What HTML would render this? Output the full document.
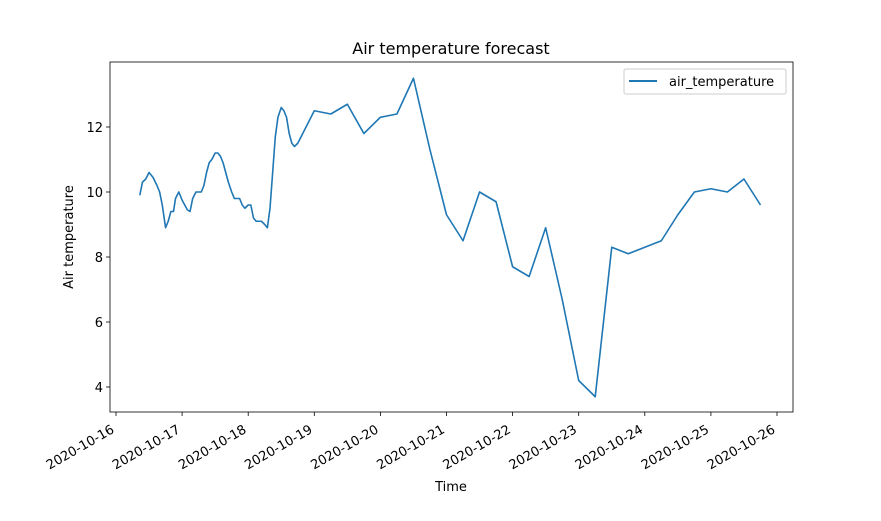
<!DOCTYPE html>
<html><head><meta charset="utf-8"><style>
body{margin:0;background:#fff;}
svg text{font-family:"DejaVu Sans","Liberation Sans",sans-serif;fill:#000;}
</style></head><body>
<svg width="881" height="516" viewBox="0 0 881 516">
<text x="451" y="54" font-size="16" text-anchor="middle">Air temperature forecast</text>
<g id="axes"></g>
<text x="451" y="491" font-size="13" text-anchor="middle">Time</text>
<text transform="translate(73,237) rotate(-90)" font-size="13" text-anchor="middle">Air temperature</text>
<g>
<rect x="624" y="69" width="162" height="25" rx="2" fill="#fff" stroke="#ccc"/>
<line x1="629" y1="81" x2="657" y2="81" stroke="#1f77b4" stroke-width="2"/>
<text x="669" y="86" font-size="13">air_temperature</text>
</g>
</svg>
<script>
const days=[0.36,0.40,0.45,0.50,0.56,0.62,0.66,0.70,0.75,0.79,0.83,0.87,0.90,0.95,1.00,1.04,1.08,1.12,1.16,1.21,1.29,1.33,1.37,1.41,1.45,1.50,1.54,1.58,1.62,1.66,1.70,1.75,1.79,1.87,1.91,1.95,2.00,2.04,2.08,2.12,2.20,2.25,2.29,2.33,2.37,2.41,2.45,2.50,2.54,2.58,2.62,2.66,2.70,2.75,3.0,3.25,3.5,3.75,4.0,4.25,4.5,4.75,5.0,5.25,5.5,5.75,6.0,6.25,6.5,6.75,7.0,7.25,7.5,7.75,8.25,8.5,8.75,9.0,9.25,9.5,9.75];
const temps=[9.9,10.3,10.4,10.6,10.45,10.2,10.0,9.6,8.9,9.1,9.4,9.4,9.8,10.0,9.75,9.6,9.45,9.4,9.8,10.0,10.0,10.2,10.6,10.9,11.0,11.2,11.2,11.1,10.9,10.6,10.3,10.0,9.8,9.8,9.6,9.5,9.6,9.6,9.2,9.1,9.1,9.0,8.9,9.5,10.6,11.7,12.3,12.6,12.5,12.3,11.8,11.5,11.4,11.5,12.5,12.4,12.7,11.8,12.3,12.4,13.5,11.3,9.3,8.5,10.0,9.7,7.7,7.4,8.9,6.7,4.2,3.7,8.3,8.1,8.5,9.3,10.0,10.1,10.0,10.4,9.6];
const xTickLabels=["2020-10-16","2020-10-17","2020-10-18","2020-10-19","2020-10-20","2020-10-21","2020-10-22","2020-10-23","2020-10-24","2020-10-25","2020-10-26"];
const yTicks=[4,6,8,10,12];
const NS="http://www.w3.org/2000/svg";
const X=d=>116+d*66.1, Y=v=>387-(v-4)*32.5;
const g=document.getElementById('axes');
function mk(t,a){const e=document.createElementNS(NS,t);for(const k in a)e.setAttribute(k,a[k]);g.appendChild(e);return e;}
xTickLabels.forEach((l,i)=>{
 const x=X(i);
 const t=mk('line',{x1:x,y1:412,x2:x,y2:416,stroke:'#000','stroke-width':0.8});
 
 
 const tx=mk('text',{'font-size':13,'text-anchor':'end',transform:`translate(${x-1},${432}) rotate(-30)`});
 
 
 tx.textContent=l;
});
yTicks.forEach(v=>{
 const y=Y(v);
 const t=mk('line',{x1:106,y1:y,x2:110,y2:y,stroke:'#000','stroke-width':0.8});
 
 
 const tx=mk('text',{x:103,y:y+5,'font-size':13,'text-anchor':'end'});
 
 
 tx.textContent=v;
});
const p=mk('polyline',{points:days.map((d,i)=>X(d)+','+Y(temps[i])).join(' '),fill:'none',stroke:'#1f77b4','stroke-width':1.6,'stroke-linejoin':'round'});


const f=mk('rect',{x:110,y:62,width:683,height:350,fill:'none',stroke:'#000','stroke-width':0.8});


</script>
</body></html>
